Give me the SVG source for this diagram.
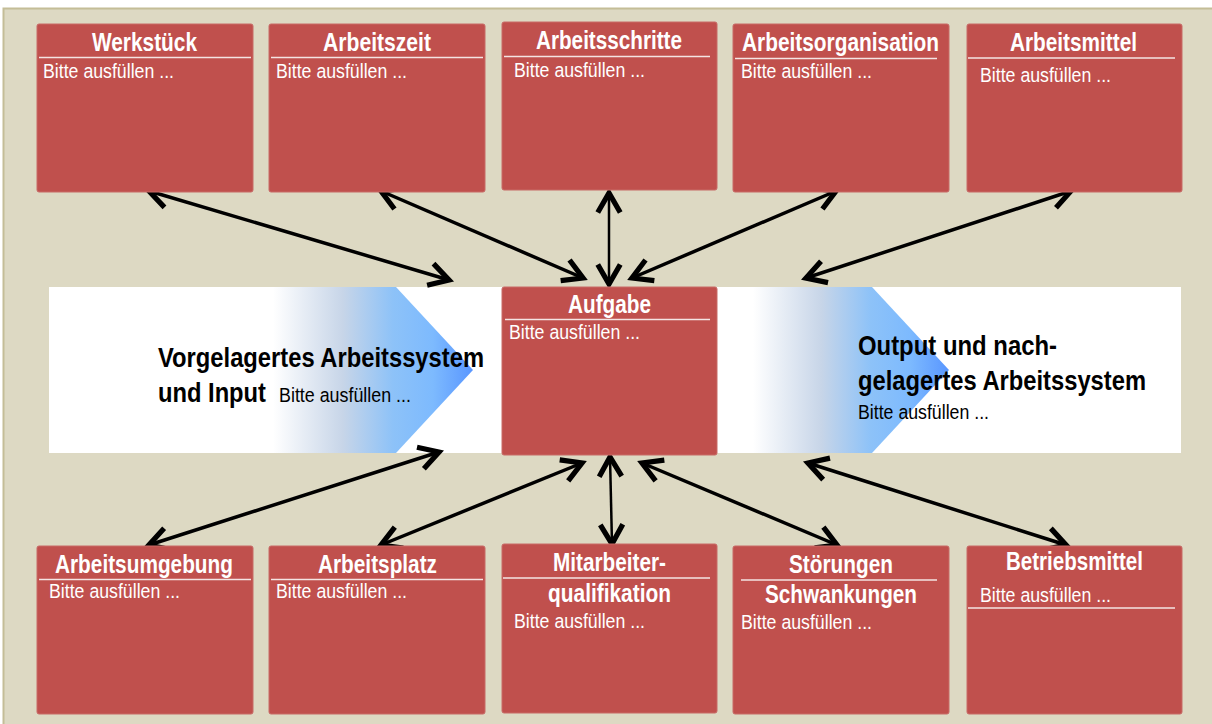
<svg xmlns="http://www.w3.org/2000/svg" width="1212" height="724" viewBox="0 0 1212 724">
<defs>
<style>
.box{fill:#C0504D;stroke:#C86A67;stroke-width:1}
.sep{stroke:#F4E4E3;stroke-width:1.6}
.t{font-family:"Liberation Sans",Arial,sans-serif;font-weight:bold;font-size:25.5px;fill:#FFFFFF;text-anchor:start}
.b{font-family:"Liberation Sans",Arial,sans-serif;font-size:20.5px;fill:#FFFFFF}
.bk{font-family:"Liberation Sans",Arial,sans-serif;font-weight:bold;font-size:28px;fill:#000000}
.bkb{font-family:"Liberation Sans",Arial,sans-serif;font-size:20.5px;fill:#000000}
.c{stroke:#000;stroke-width:3.5;fill:none;marker-start:url(#ah);marker-end:url(#ah)}
.cv{stroke:#000;stroke-width:2.5;fill:none;marker-start:url(#ah);marker-end:url(#ah)}
</style>
<marker id="ah" markerUnits="userSpaceOnUse" markerWidth="30" markerHeight="30" viewBox="-16 -10 20 20" refX="0" refY="0" orient="auto-start-reverse">
<path d="M-13,-7.5 L0,0 L-13,7.5" fill="none" stroke="#000" stroke-width="3.5" stroke-linejoin="miter"/>
</marker>
<linearGradient id="g1" x1="0" y1="0" x2="1" y2="0">
<stop offset="0" stop-color="#FFFFFF"/>
<stop offset="0.35" stop-color="#C7D5E8"/>
<stop offset="0.6" stop-color="#8DC2F8"/>
<stop offset="0.8" stop-color="#7DBAFE"/>
<stop offset="1" stop-color="#5996FF"/>
</linearGradient>
</defs>
<rect x="0" y="0" width="1212" height="724" fill="#FFFFFF"/>
<rect x="3.5" y="8.5" width="1212" height="720" fill="#DDD9C3" stroke="#C4BD97" stroke-width="2"/>

<g id="band">
<rect x="49" y="287" width="1132" height="166" fill="#FFFFFF"/>
<polygon points="273,287 396,287 473,370 396,453 273,453" fill="url(#g1)"/>
<polygon points="753,287 872,287 949,370 872,453 753,453" fill="url(#g1)"/>
</g>

<g id="connectors">
<line class="c" x1="149" y1="191" x2="449" y2="280"/>
<line class="c" x1="381" y1="191" x2="583" y2="278"/>
<line class="cv" x1="609" y1="193" x2="609" y2="284"/>
<line class="c" x1="836" y1="191" x2="632" y2="278"/>
<line class="c" x1="1071" y1="191" x2="806" y2="278"/>
<line class="c" x1="439" y1="452" x2="149" y2="545"/>
<line class="c" x1="582" y1="463" x2="381" y2="545"/>
<line class="cv" x1="610" y1="457" x2="612" y2="544"/>
<line class="c" x1="642" y1="463" x2="837" y2="545"/>
<line class="c" x1="808" y1="463" x2="1066" y2="545"/>
</g>

<g id="input">
<text class="bk" x="158" y="367" textLength="326" lengthAdjust="spacingAndGlyphs">Vorgelagertes Arbeitssystem</text>
<text class="bk" x="158" y="402" textLength="108" lengthAdjust="spacingAndGlyphs">und Input</text>
<text class="bkb" x="279" y="402" textLength="132" lengthAdjust="spacingAndGlyphs">Bitte ausfüllen ...</text>
</g>
<g id="output">
<text class="bk" x="858" y="355" textLength="199" lengthAdjust="spacingAndGlyphs">Output und nach-</text>
<text class="bk" x="858" y="390" textLength="288" lengthAdjust="spacingAndGlyphs">gelagertes Arbeitssystem</text>
<text class="bkb" x="858" y="419" textLength="131" lengthAdjust="spacingAndGlyphs">Bitte ausfüllen ...</text>
</g>

<g id="werkstueck">
<rect class="box" x="37" y="24" width="216" height="168" rx="2"/>
<text class="t" x="92" y="51" textLength="105" lengthAdjust="spacingAndGlyphs">Werkstück</text>
<line class="sep" x1="39" y1="57.5" x2="251" y2="57.5"/>
<text class="b" x="43" y="78" textLength="131" lengthAdjust="spacingAndGlyphs">Bitte ausfüllen ...</text>
</g>
<g id="arbeitszeit">
<rect class="box" x="269" y="24" width="216" height="168" rx="2"/>
<text class="t" x="323" y="51" textLength="108" lengthAdjust="spacingAndGlyphs">Arbeitszeit</text>
<line class="sep" x1="271" y1="57.5" x2="483" y2="57.5"/>
<text class="b" x="276" y="78" textLength="131" lengthAdjust="spacingAndGlyphs">Bitte ausfüllen ...</text>
</g>
<g id="arbeitsschritte">
<rect class="box" x="502" y="22" width="215" height="168" rx="2"/>
<text class="t" x="536" y="49" textLength="146" lengthAdjust="spacingAndGlyphs">Arbeitsschritte</text>
<line class="sep" x1="504" y1="56.5" x2="710" y2="56.5"/>
<text class="b" x="514" y="77" textLength="131" lengthAdjust="spacingAndGlyphs">Bitte ausfüllen ...</text>
</g>
<g id="arbeitsorganisation">
<rect class="box" x="733" y="24" width="216" height="168" rx="2"/>
<text class="t" x="742" y="51" textLength="197" lengthAdjust="spacingAndGlyphs">Arbeitsorganisation</text>
<line class="sep" x1="735" y1="58.5" x2="937" y2="58.5"/>
<text class="b" x="741" y="78" textLength="131" lengthAdjust="spacingAndGlyphs">Bitte ausfüllen ...</text>
</g>
<g id="arbeitsmittel">
<rect class="box" x="967" y="24" width="215" height="168" rx="2"/>
<text class="t" x="1010" y="51" textLength="127" lengthAdjust="spacingAndGlyphs">Arbeitsmittel</text>
<line class="sep" x1="968" y1="58" x2="1175" y2="58"/>
<text class="b" x="980" y="82" textLength="131" lengthAdjust="spacingAndGlyphs">Bitte ausfüllen ...</text>
</g>

<g id="aufgabe">
<rect class="box" x="502" y="287" width="215" height="168" rx="2"/>
<text class="t" x="568" y="313" textLength="83" lengthAdjust="spacingAndGlyphs">Aufgabe</text>
<line class="sep" x1="505" y1="319.5" x2="710" y2="319.5"/>
<text class="b" x="509" y="339" textLength="131" lengthAdjust="spacingAndGlyphs">Bitte ausfüllen ...</text>
</g>

<g id="arbeitsumgebung">
<rect class="box" x="37" y="546" width="216" height="168" rx="2"/>
<text class="t" x="55" y="573" textLength="178" lengthAdjust="spacingAndGlyphs">Arbeitsumgebung</text>
<line class="sep" x1="39" y1="579.5" x2="251" y2="579.5"/>
<text class="b" x="49" y="598" textLength="131" lengthAdjust="spacingAndGlyphs">Bitte ausfüllen ...</text>
</g>
<g id="arbeitsplatz">
<rect class="box" x="269" y="546" width="216" height="168" rx="2"/>
<text class="t" x="318" y="573" textLength="119" lengthAdjust="spacingAndGlyphs">Arbeitsplatz</text>
<line class="sep" x1="271" y1="579.5" x2="483" y2="579.5"/>
<text class="b" x="276" y="598" textLength="131" lengthAdjust="spacingAndGlyphs">Bitte ausfüllen ...</text>
</g>
<g id="mitarbeiterqualifikation">
<rect class="box" x="502" y="544" width="215" height="169" rx="2"/>
<text class="t" x="553" y="571" textLength="113" lengthAdjust="spacingAndGlyphs">Mitarbeiter-</text>
<line class="sep" x1="503" y1="578" x2="710" y2="578"/>
<text class="t" x="548" y="602" textLength="123" lengthAdjust="spacingAndGlyphs">qualifikation</text>
<text class="b" x="514" y="628" textLength="131" lengthAdjust="spacingAndGlyphs">Bitte ausfüllen ...</text>
</g>
<g id="stoerungen">
<rect class="box" x="733" y="546" width="216" height="168" rx="2"/>
<text class="t" x="789" y="573" textLength="104" lengthAdjust="spacingAndGlyphs">Störungen</text>
<line class="sep" x1="741" y1="580" x2="937" y2="580"/>
<text class="t" x="765" y="603" textLength="152" lengthAdjust="spacingAndGlyphs">Schwankungen</text>
<text class="b" x="741" y="629" textLength="131" lengthAdjust="spacingAndGlyphs">Bitte ausfüllen ...</text>
</g>
<g id="betriebsmittel">
<rect class="box" x="967" y="546" width="215" height="168" rx="2"/>
<text class="t" x="1006" y="570" textLength="137" lengthAdjust="spacingAndGlyphs">Betriebsmittel</text>
<text class="b" x="980" y="602" textLength="131" lengthAdjust="spacingAndGlyphs">Bitte ausfüllen ...</text>
<line class="sep" x1="968" y1="608" x2="1175" y2="608"/>
</g>
</svg>
